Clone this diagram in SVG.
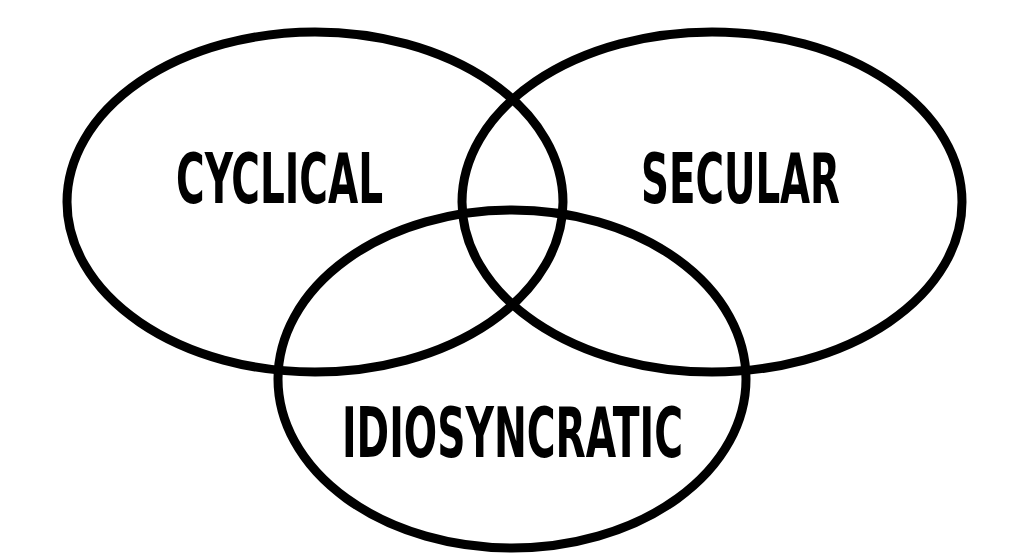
<svg xmlns="http://www.w3.org/2000/svg" width="1024" height="559" viewBox="0 0 1024 559">
<style>
.c{fill:none;stroke:#000;stroke-width:9}
.t{font-family:"Liberation Sans Narrow","DejaVu Sans Condensed","Liberation Sans",sans-serif;font-weight:bold;font-size:70px;fill:#000}
</style>
<rect width="1024" height="559" fill="#fff"/>
<g id="cyclical"><ellipse class="c" cx="315" cy="202" rx="248" ry="170"/>
<text class="t" x="176" y="203" textLength="207" lengthAdjust="spacingAndGlyphs">CYCLICAL</text></g>
<g id="secular"><ellipse class="c" cx="712" cy="202" rx="250" ry="170"/>
<text class="t" x="641" y="203" textLength="199" lengthAdjust="spacingAndGlyphs">SECULAR</text></g>
<g id="idiosyncratic"><ellipse class="c" cx="512" cy="379" rx="234" ry="169"/>
<text class="t" x="342" y="457" textLength="341" lengthAdjust="spacingAndGlyphs">IDIOSYNCRATIC</text></g>
</svg>
